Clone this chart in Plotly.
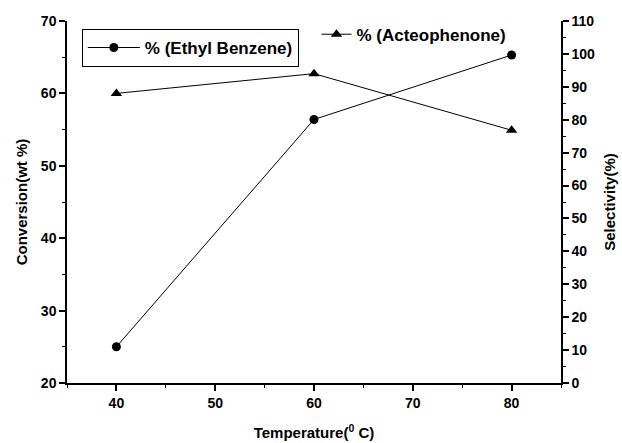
import plotly.graph_objects as go

# Reaction temperature (deg C)
temperature = [40, 60, 80]
# Ethyl benzene conversion (wt %)
conversion_eb = [25.0, 56.4, 65.3]
# Acetophenone selectivity (%)
selectivity_ap = [88.0, 94.0, 76.8]

# Tick values for each axis
x_ticks = [40, 50, 60, 70, 80]
y_ticks = [20, 30, 40, 50, 60, 70]
y2_ticks = [0, 10, 20, 30, 40, 50, 60, 70, 80, 90, 100, 110]

font_family = "Liberation Sans, Arial, sans-serif"
tick_font = dict(family=font_family, size=14, color="black", weight="bold")
title_font = dict(family=font_family, size=15, color="black", weight="bold")
legend_font = dict(family=font_family, size=17, color="black", weight="bold")


def bold_labels(values):
    return ["<b>%d</b>" % v for v in values]


fig = go.Figure()

fig.add_trace(go.Scatter(
    x=temperature, y=conversion_eb, mode="lines+markers",
    name="<b>% (Ethyl Benzene)</b>",
    line=dict(color="black", width=1),
    marker=dict(symbol="circle", size=9, color="black"),
    yaxis="y", legend="legend",
))

fig.add_trace(go.Scatter(
    x=temperature, y=selectivity_ap, mode="lines+markers",
    name="<b>% (Acteophenone)</b>",
    line=dict(color="black", width=1),
    marker=dict(symbol="triangle-up", size=10, color="black"),
    yaxis="y2", legend="legend2",
))

axis_common = dict(
    showline=True, linecolor="black", linewidth=1.5,
    ticks="outside", ticklen=6, tickwidth=1.5, tickcolor="black",
    showgrid=False, zeroline=False, tickfont=tick_font, automargin=False,
    tickmode="array",
)
minor_common = dict(ticks="outside", ticklen=3, tickwidth=1, tickcolor="black",
                    showgrid=False, dtick=5, tick0=0)

fig.update_layout(
    width=622, height=443,
    margin=dict(l=67, r=61, t=21, b=60),
    plot_bgcolor="white", paper_bgcolor="white",
    font=dict(family=font_family, color="black"),
    xaxis=dict(
        range=[35, 85], tickvals=x_ticks, ticktext=bold_labels(x_ticks),
        minor=minor_common,
        title=dict(text="<b>Temperature(<sup>0</sup> C)</b>", font=title_font, standoff=18),
        **axis_common,
    ),
    yaxis=dict(
        range=[20, 70], tickvals=y_ticks, ticktext=bold_labels(y_ticks),
        minor=minor_common,
        title=dict(text="<b>Conversion(wt %)</b>", font=title_font, standoff=10),
        **axis_common,
    ),
    yaxis2=dict(
        range=[0, 110], tickvals=y2_ticks, ticktext=bold_labels(y2_ticks),
        overlaying="y", side="right",
        minor=minor_common,
        title=dict(text="<b>Selectivity(%)</b>", font=title_font, standoff=10),
        **axis_common,
    ),
    legend=dict(
        x=0.030, y=0.978, xanchor="left", yanchor="top",
        bgcolor="white", bordercolor="black", borderwidth=1,
        font=legend_font, itemwidth=52,
    ),
    legend2=dict(
        x=0.505, y=1.012, xanchor="left", yanchor="top",
        bgcolor="rgba(0,0,0,0)", borderwidth=0,
        font=legend_font, itemwidth=30,
    ),
    showlegend=True,
)

fig.write_html("out.html")
